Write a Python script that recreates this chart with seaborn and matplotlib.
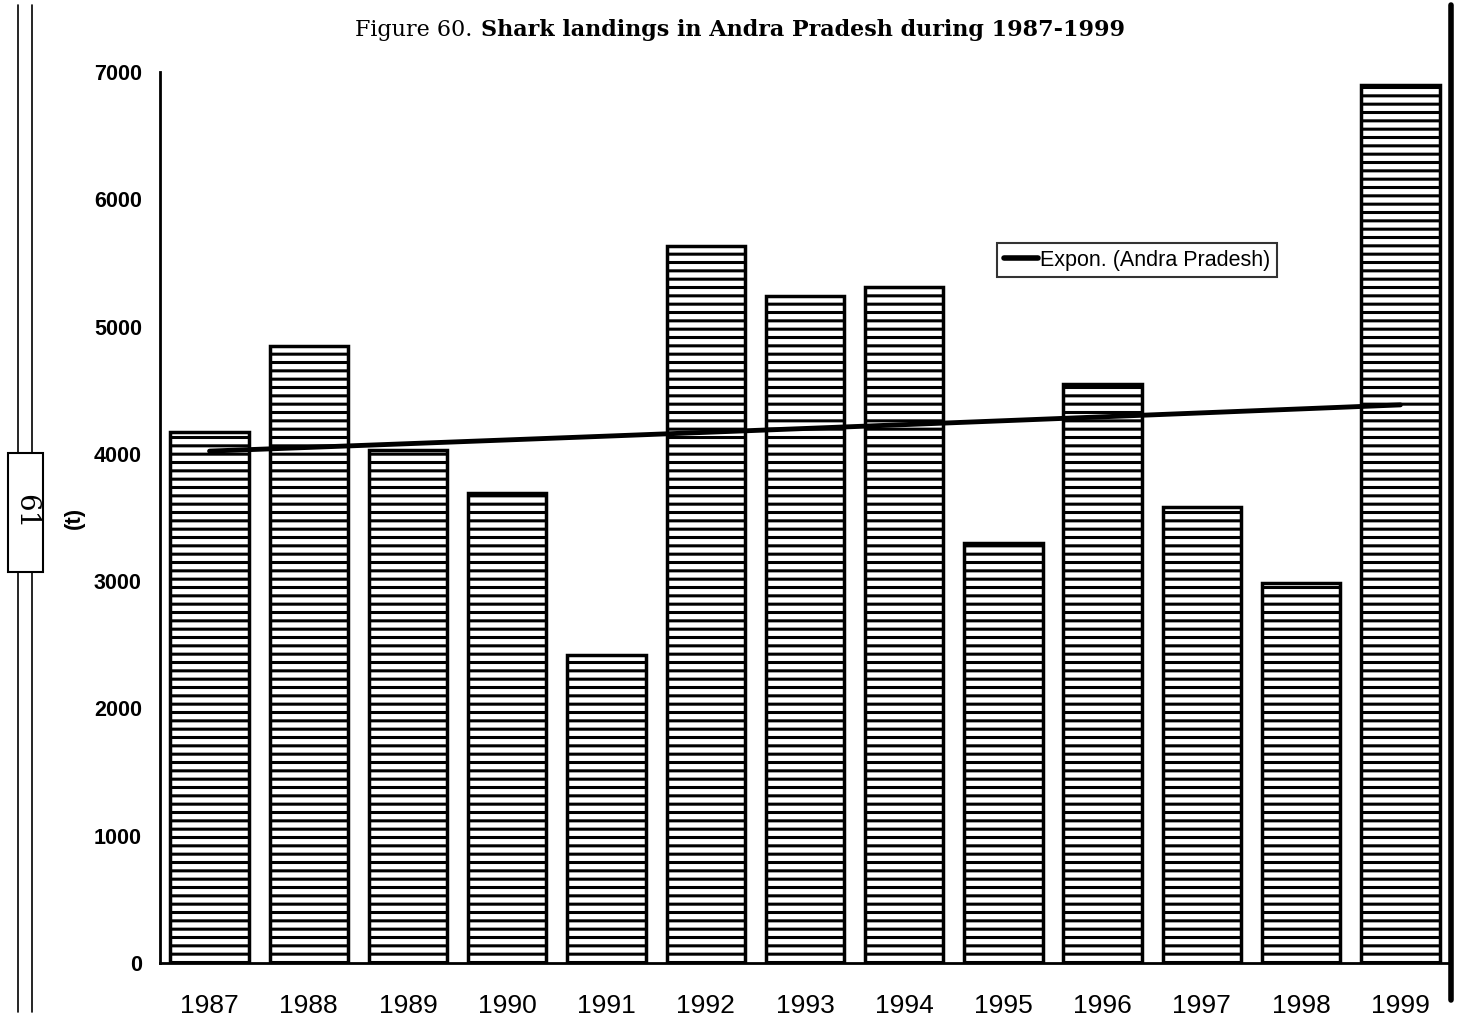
import numpy as np
import matplotlib
matplotlib.use("Agg")
import matplotlib.pyplot as plt
import seaborn as sns
from matplotlib.lines import Line2D
from matplotlib.patches import Rectangle

years = ['1987', '1988', '1989', '1990', '1991', '1992', '1993',
         '1994', '1995', '1996', '1997', '1998', '1999']
landings = [4170, 4850, 4030, 3690, 2420, 5630, 5240,
            5310, 3300, 4550, 3580, 2985, 6900]
yticks = [0, 1000, 2000, 3000, 4000, 5000, 6000, 7000]

sns.set_style('white')
plt.rcParams['font.family'] = ['Liberation Sans', 'DejaVu Sans']
plt.rcParams['hatch.linewidth'] = 2.2
plt.rcParams['hatch.color'] = 'black'
plt.rcParams['text.color'] = 'black'

fig = plt.figure(figsize=(14.62, 10.23), dpi=100)
ax = fig.add_axes([0.1094, 0.0587, 0.8824, 0.8709])

sns.barplot(x=years, y=landings, color='white', edgecolor='black',
            linewidth=2.5, hatch='--', width=0.79, saturation=1, ax=ax)

# exponential trendline fitted to the data
xs = np.arange(len(years))
b, a = np.polyfit(xs, np.log(landings), 1)
ax.plot(xs, np.exp(a + b * xs), color='black', lw=3.5)

ax.set_xlim(-0.5, len(years) - 0.5)
ax.set_ylim(0, 7000)
ax.set_yticks(yticks)
ax.set_yticklabels([str(t) for t in yticks], fontsize=15.5, fontweight='bold', color='black')
ax.set_xticks(xs)
ax.set_xticklabels(years, fontsize=19, color='black')
ax.set_xticks(np.arange(-0.5, len(years), 1.0), minor=True)
ax.tick_params(axis='x', which='major', length=0, pad=22)
ax.tick_params(axis='x', which='minor', length=8, width=1.5, direction='out', color='black')
ax.tick_params(axis='y', length=7, width=2, direction='out', color='black', pad=6)
ax.set_xlabel('')
ax.set_ylabel('(t)', fontsize=16, fontweight='bold', color='black')
ax.yaxis.set_label_coords(-0.058, 0.5)

for s in ['top', 'right']:
    ax.spines[s].set_visible(False)
for s in ['left', 'bottom']:
    ax.spines[s].set_color('black')
    ax.spines[s].set_linewidth(2)

leg = ax.legend([Line2D([0], [0], color='black', lw=4)], ['Expon. (Andra Pradesh)'],
                loc='upper left', bbox_to_anchor=(0.649, 0.808), fontsize=15.5,
                frameon=True, fancybox=False, edgecolor='black',
                handlelength=1.6, handletextpad=0.1, borderpad=0.3, borderaxespad=0)
leg.get_frame().set_linewidth(1.5)

# title: normal prefix followed by bold text
t1 = fig.text(355 / 1462, 1 - 30 / 1023, 'Figure 60.', family='DejaVu Serif',
              fontsize=16, va='center', ha='left')
fig.canvas.draw()
bb = t1.get_window_extent()
fig.text((bb.x1 + 9) / fig.bbox.width, 1 - 30 / 1023,
         'Shark landings in Andra Pradesh during 1987-1999',
         family='DejaVu Serif', fontsize=16, fontweight='bold', va='center', ha='left')

# page margin marks from the scan
W, H = 1462, 1023
for x in [18, 32]:
    fig.add_artist(Line2D([x / W, x / W], [1 - 5 / H, 1 - 453 / H], color='black', lw=1.2))
    fig.add_artist(Line2D([x / W, x / W], [1 - 572 / H, 1 - 1012 / H], color='black', lw=1.2))
fig.add_artist(Rectangle((8 / W, 1 - 572 / H), 35 / W, 119 / H, fill=False,
                         edgecolor='black', lw=1.5, transform=fig.transFigure))
fig.text(26 / W, 1 - 512 / H, '61', family='DejaVu Serif', fontsize=20,
         rotation=-90, ha='center', va='center')
fig.add_artist(Line2D([1451 / W, 1451 / W], [1 - 5 / H, 1 - 1000 / H], color='black', lw=4))

fig.savefig('out.png', dpi=100)
